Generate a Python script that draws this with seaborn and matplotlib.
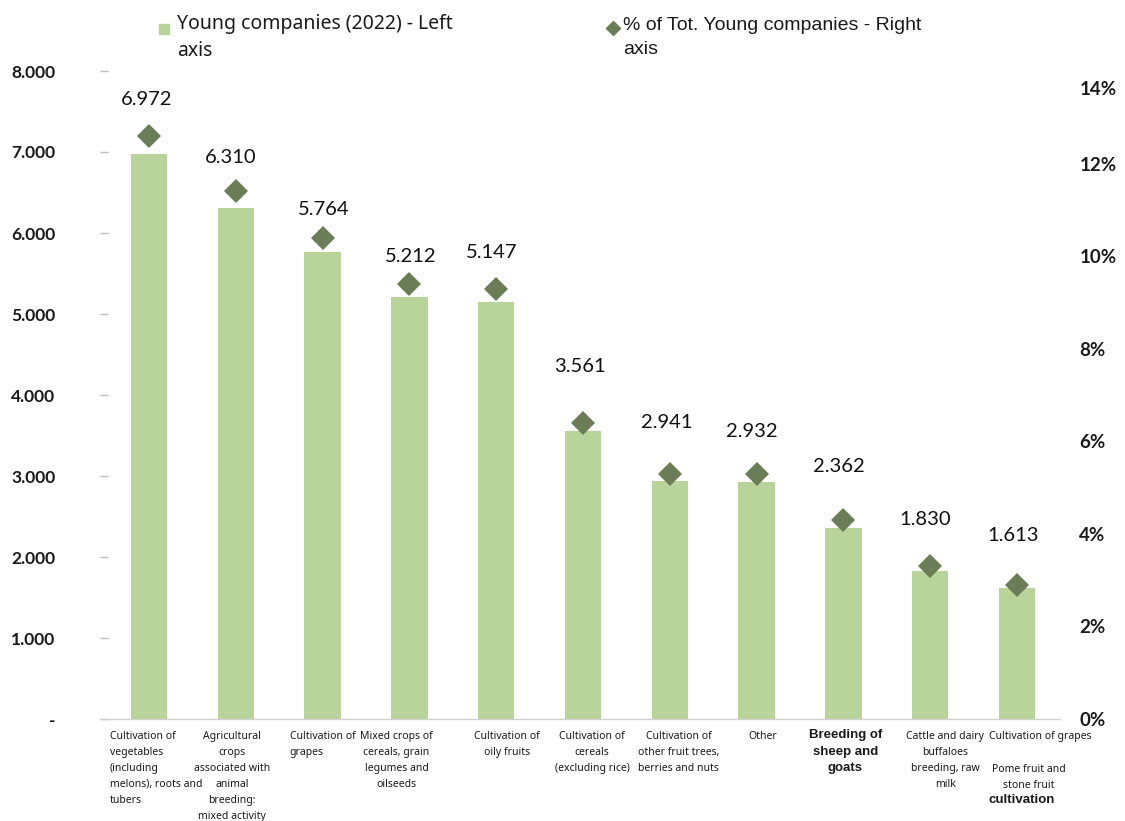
import matplotlib
matplotlib.use("Agg")
import matplotlib.pyplot as plt
from matplotlib.lines import Line2D
from matplotlib.transforms import ScaledTranslation
import seaborn as sns
import pandas as pd

# ---- data -------------------------------------------------------------
categories = [
    "Cultivation of\nvegetables\n(including\nmelons), roots and\ntubers",
    "Agricultural\ncrops\nassociated with\nanimal\nbreeding:\nmixed activity",
    "Cultivation of\ngrapes",
    "Mixed crops of\ncereals, grain\nlegumes and\noilseeds",
    "Cultivation of\noily fruits",
    "Cultivation of\ncereals\n(excluding rice)",
    "Cultivation of\nother fruit trees,\nberries and nuts",
    "Other",
    "Breeding of\nsheep and\ngoats",
    "Cattle and dairy\nbuffaloes\nbreeding, raw\nmilk",
    "Cultivation of grapes\n\nPome fruit and\nstone fruit\ncultivation",
]
young_companies = [6972, 6310, 5764, 5212, 5147, 3561, 2941, 2932, 2362, 1830, 1613]
share_pct = [12.6, 11.4, 10.4, 9.4, 9.3, 6.4, 5.3, 5.3, 4.3, 3.3, 2.9]
left_ticks = [0, 1000, 2000, 3000, 4000, 5000, 6000, 7000, 8000]
left_tick_labels = ["-", "1.000", "2.000", "3.000", "4.000", "5.000", "6.000", "7.000", "8.000"]
right_ticks = [0, 2, 4, 6, 8, 10, 12, 14]
right_tick_labels = ["0%", "2%", "4%", "6%", "8%", "10%", "12%", "14%"]
legend_bar = "Young companies (2022) - Left\naxis"
legend_pct = "% of Tot. Young companies - Right\naxis"

df = pd.DataFrame({"category": categories, "companies": young_companies, "share": share_pct})

# ---- style ------------------------------------------------------------
BAR = "#b9d49a"
DIAMOND = "#6b7d56"
TXT = "#1a1a1a"

sns.set_theme(style="white")
plt.rcParams["font.family"] = ["Lato", "DejaVu Sans"]

fig = plt.figure(figsize=(11.25, 8.21), dpi=100)
ax = fig.add_axes([100 / 1125, 102 / 821, 960 / 1125, 648 / 821])

sns.barplot(data=df, x="category", y="companies", ax=ax, color=BAR,
            saturation=1, width=0.42, linewidth=0)
ax.set_xlim(-0.565, 10.495)
ax.set_ylim(0, 8000)
ax.set_xlabel("")
ax.set_ylabel("")

for s in ["top", "right", "left"]:
    ax.spines[s].set_visible(False)
ax.spines["bottom"].set_color("#d0d0d0")
ax.spines["bottom"].set_linewidth(1.0)

ax.set_yticks(left_ticks)
ax.set_yticklabels(left_tick_labels)
ax.tick_params(axis="y", direction="in", length=6, width=1, color="#bdbdbd",
               pad=32, labelsize=12.5, labelcolor=TXT, left=True)
for lab in ax.get_yticklabels():
    lab.set_fontweight("bold")

ax.set_xticks(range(len(categories)))
ax.set_xticklabels([""] * len(categories))
ax.tick_params(axis="x", length=0)

# secondary axis with the share of the total
ax2 = ax.twinx()
ax2.plot(range(len(share_pct)), share_pct, linestyle="none", marker="D",
         markersize=12, color=DIAMOND, markeredgewidth=0)
ax2.set_ylim(0, 14)
ax2.set_xlim(-0.565, 10.495)
for s in ["top", "right", "left", "bottom"]:
    ax2.spines[s].set_visible(False)
ax2.set_yticks(right_ticks)
ax2.set_yticklabels(right_tick_labels)
ax2.tick_params(axis="y", length=0, pad=14, labelsize=13.5, labelcolor=TXT)
for lab in ax2.get_yticklabels():
    lab.set_fontweight("bold")
top_lab = ax2.get_yticklabels()[-1]
top_lab.set_transform(top_lab.get_transform() + ScaledTranslation(0, -17 / 100, fig.dpi_scale_trans))
ax2.grid(False)
ax.grid(False)

# value labels above the bars (offsets in pixels from the bar top)
label_dx = [-2, -5, 1, 1, -5, -3, -3, -5, -5, -5, -4]
label_dy = [55, 50, 43, 40, 50, 64, 58, 50, 61, 51, 53]
for i, v in enumerate(young_companies):
    ax.annotate(f"{v:,}".replace(",", "."), xy=(i, v), xycoords="data",
                xytext=(label_dx[i], label_dy[i]), textcoords="offset pixels",
                ha="center", va="center", fontsize=14.5, color="#111111")

# category labels under the axis
cat_font = dict(family=["Noto Sans", "DejaVu Sans"], fontsize=7.5, color=TXT, linespacing=1.62)
cat_dx = [-39, -4, -33, -13, 11, 9, 9, 6, 2, 15, 23]
cat_ha = ["left", "center", "left", "center", "center", "center", "center", "center", "center", "center", "center"]
xform = ax.get_xaxis_transform()
for i, name in enumerate(categories):
    if i == 8:
        ax.annotate(name, xy=(i, 0), xycoords=xform, xytext=(cat_dx[i], -10),
                    textcoords="offset pixels", ha="center", va="top",
                    family=["Liberation Sans"], fontsize=9.5, fontweight="bold",
                    color=TXT, linespacing=1.5, annotation_clip=False)
    elif i == 10:
        first, rest = name.split("\n\n")
        rest_lines = rest.split("\n")
        ax.annotate(first, xy=(i, 0), xycoords=xform, xytext=(23, -12),
                    textcoords="offset pixels", ha="center", va="top",
                    annotation_clip=False, **cat_font)
        ax.annotate("\n".join(rest_lines[:-1]), xy=(i, 0), xycoords=xform,
                    xytext=(12, -45), textcoords="offset pixels", ha="center",
                    va="top", annotation_clip=False, **cat_font)
        ax.annotate(rest_lines[-1], xy=(i, 0), xycoords=xform, xytext=(5, -75),
                    textcoords="offset pixels", ha="center", va="top",
                    family=["Liberation Sans"], fontsize=9.5, fontweight="bold",
                    color=TXT, annotation_clip=False)
    else:
        ax.annotate(name, xy=(i, 0), xycoords=xform, xytext=(cat_dx[i], -12),
                    textcoords="offset pixels", ha=cat_ha[i], va="top",
                    multialignment=cat_ha[i], annotation_clip=False, **cat_font)

# legend at the top
fig.add_artist(Line2D([164 / 1125], [1 - 29 / 821], marker="s", markersize=7.5,
                      color=BAR, linestyle="none", transform=fig.transFigure))
fig.text(177 / 1125, 1 - 14 / 821, legend_bar, ha="left", va="top",
         family=["Noto Sans", "DejaVu Sans"], fontsize=14, color=TXT, linespacing=1.45)
fig.add_artist(Line2D([613 / 1125], [1 - 28 / 821], marker="D", markersize=7,
                      color=DIAMOND, linestyle="none", transform=fig.transFigure))
fig.text(623 / 1125, 1 - 17 / 821, legend_pct, ha="left", va="top",
         family=["Liberation Sans"], fontsize=14, color=TXT, linespacing=1.55)

fig.savefig("out.png", dpi=100)
